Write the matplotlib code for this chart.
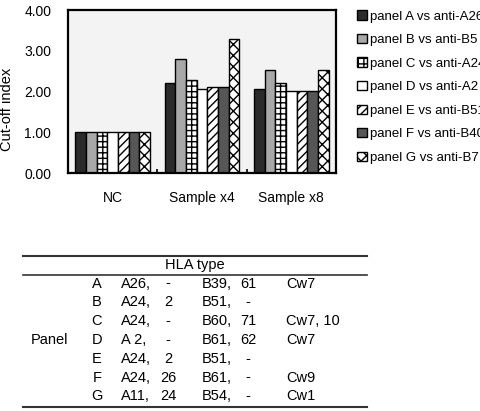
import numpy as np
import matplotlib
matplotlib.use("Agg")
import matplotlib.pyplot as plt
from matplotlib.lines import Line2D

plt.rcParams['font.family'] = ['Liberation Sans', 'DejaVu Sans']
plt.rcParams['hatch.linewidth'] = 1.0

# chart data
groups = ['NC', 'Sample x4', 'Sample x8']
series = ['panel A vs anti-A26', 'panel B vs anti-B5', 'panel C vs anti-A24',
          'panel D vs anti-A2', 'panel E vs anti-B51', 'panel F vs anti-B40',
          'panel G vs anti-B7']
values = [
    [1.00, 2.21, 2.07],
    [1.00, 2.79, 2.52],
    [1.00, 2.27, 2.20],
    [1.00, 2.05, 2.01],
    [1.00, 2.11, 2.01],
    [1.00, 2.11, 2.01],
    [1.00, 3.28, 2.52],
]
y_ticks = [0, 1, 2, 3, 4]

# table data
panels = ['A', 'B', 'C', 'D', 'E', 'F', 'G']
hla_a1 = ['A26,', 'A24,', 'A24,', 'A 2,', 'A24,', 'A24,', 'A11,']
hla_a2 = ['-', '2', '-', '-', '2', '26', '24']
hla_b1 = ['B39,', 'B51,', 'B60,', 'B61,', 'B51,', 'B61,', 'B54,']
hla_b2 = ['61', '-', '71', '62', '-', '-', '-']
hla_c = ['Cw7', '', 'Cw7, 10', 'Cw7', '', 'Cw9', 'Cw1']

# bar styles
faces = ['#2b2b2b', '#a8a8a8', 'white', 'white', 'white', '#565656', 'white']
hatches = [None, None, '+++', None, '////', None, 'xxx']

W, H = 481, 411
fig = plt.figure(figsize=(W / 100, H / 100), dpi=100)
ax = fig.add_axes([68 / W, 1 - 173 / H, 268 / W, 163 / H])
ax.set_facecolor('#f3f3f3')

n = len(series)
bw = 0.833 / n
x = np.arange(len(groups))
for i in range(n):
    ax.bar(x - 0.833 / 2 + bw * (i + 0.5), values[i], width=bw,
           color=faces[i], edgecolor='black', linewidth=1.0,
           hatch=hatches[i], label=series[i])

ax.set_xlim(-0.5, 2.5)
ax.set_ylim(0, 4)
ax.set_yticks(y_ticks)
ax.set_yticklabels(['%.2f' % v for v in y_ticks], fontsize=10)
ax.set_xticks(x)
ax.set_xticklabels(groups, fontsize=10)
ax.set_xticks([0.5, 1.5], minor=True)
ax.tick_params(axis='x', which='major', length=0, pad=13)
ax.tick_params(axis='x', which='minor', length=3, direction='in', width=1.2)
ax.tick_params(axis='y', length=0, pad=12)
ax.set_ylabel('Cut-off index', fontsize=10.5)
ax.yaxis.set_label_coords((14 - 68) / 268, (173 - 109) / 163)
for s in ax.spines.values():
    s.set_linewidth(1.6)

fig.legend(loc='upper left', bbox_to_anchor=(352 / W, 1 - 5 / H),
           frameon=False, fontsize=9.5, handlelength=0.7, handleheight=0.7,
           handletextpad=0.25, labelspacing=0.86, borderaxespad=0)

# HLA table
x0, x1 = 23 / W, 367 / W
def hline(y, lw):
    fig.add_artist(Line2D([x0, x1], [1 - y / H, 1 - y / H], color='#333333', lw=lw))

hline(256, 1.5)
hline(275, 1.2)
hline(407, 1.5)
fs = 10.5
fig.text(195 / W, 1 - 265 / H, 'HLA type', ha='center', va='center', fontsize=fs)
fig.text(50 / W, 1 - 340 / H, 'Panel', ha='center', va='center', fontsize=fs)
for r in range(len(panels)):
    yy = 1 - (283.5 + r * 18.8) / H
    fig.text(97 / W, yy, panels[r], ha='center', va='center', fontsize=fs)
    fig.text(121 / W, yy, hla_a1[r], ha='left', va='center', fontsize=fs)
    fig.text(168 / W, yy, hla_a2[r], ha='center', va='center', fontsize=fs)
    fig.text(202 / W, yy, hla_b1[r], ha='left', va='center', fontsize=fs)
    fig.text(248 / W, yy, hla_b2[r], ha='center', va='center', fontsize=fs)
    fig.text(286 / W, yy, hla_c[r], ha='left', va='center', fontsize=fs)

fig.savefig('out.png', dpi=100)
